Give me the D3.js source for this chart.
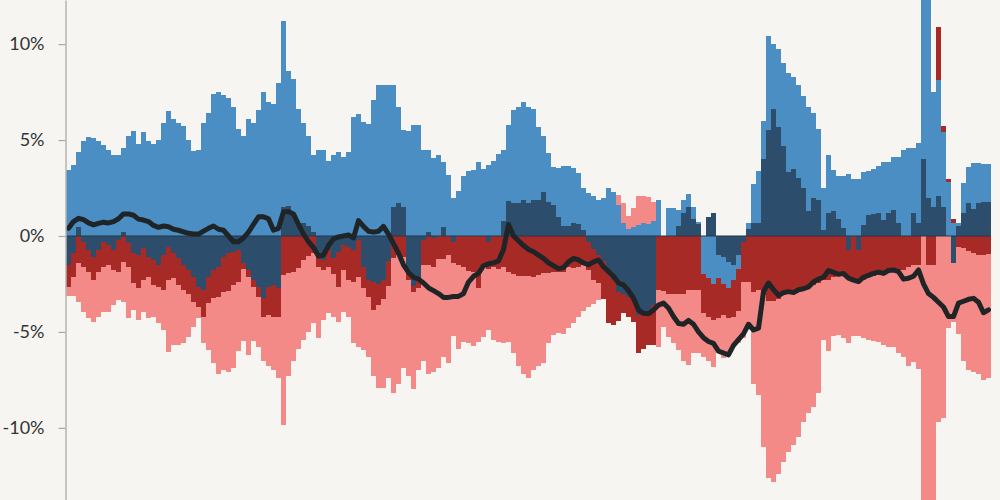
<!DOCTYPE html>
<html><head><meta charset="utf-8">
<script src="https://cdn.jsdelivr.net/npm/d3@7"></script>
<style>
html,body{margin:0;padding:0;background:#f6f5f1;}
svg{display:block;}
</style></head><body>
<svg id="chart" width="1000" height="500"></svg>
<script>
// Signed contributions per period (percent), stacked diverging: navy, blue, red, pink
const navy = [
-1.5,-0.9,0.45,-0.3,-0.73,-1.08,-0.73,-0.3,-0.47,-0.73,
-0.2,0.2,-0.38,-0.9,-1.0,-0.64,-1.08,-1.25,-1.5,-1.0,
-0.56,-0.9,-1.17,-1.5,-1.77,-2.12,-2.64,-2.82,-2.12,-1.77,
-1.6,-1.11,-0.9,-0.82,-0.73,-1.4,-1.77,-2.3,-2.64,-3.25,
-2.64,-2.56,-2.73,1.5,1.55,1.1,0.6,0.7,0.5,0.2,
-0.9,-1.25,-0.73,-1.17,-0.82,-0.47,-0.56,-0.73,-0.2,-1.6,
-2.3,-2.4,-2.5,-2.3,-1.3,1.5,1.7,1.5,-1.8,-2.6,
-2.3,-0.2,0.2,-0.1,0,0.45,0,-0.3,0,0,
0,0,0,0,-0.3,0,0,0.8,1.8,1.7,
1.7,1.85,1.7,1.88,1.88,2.3,1.75,1.6,1.0,0.5,
0.5,0.7,0.6,0.3,-0.3,-0.7,-1.0,-1.3,-2.0,-2.3,
-2.9,-3.0,-3.2,-3.3,-4.1,-4.0,-3.9,-3.6,0,0,
0,0,0.5,1.2,1.5,0.9,0.6,0,1.0,1.2,
-1.0,-1.1,-1.35,-1.5,-1.0,-0.3,0.35,0.66,0.7,4.0,
5.5,6.6,5.7,4.7,3.36,3.5,3.0,2.5,1.3,2.0,
1.9,0.3,1.2,1.3,0.9,0.4,-0.73,0,-0.73,0.57,
1.1,1.15,1.18,0.83,1.18,1.36,0.66,0,0,1.18,
0.7,4.0,2.0,1.5,2.1,1.5,0,-1.4,0.5,1.18,
1.7,1.4,1.7,1.79,1.79];
const blue = [
3.45,3.7,3.95,4.95,5.15,5.1,4.95,4.75,4.5,4.2,
4.2,4.4,5.2,5.45,4.8,5.4,4.95,4.8,5.0,5.9,
6.5,6.1,5.9,5.75,5.0,4.45,4.5,5.9,6.4,7.4,
7.5,7.36,7.2,6.7,5.6,5.2,6.1,5.9,6.57,7.5,
7.0,6.9,8.0,9.68,7.05,7.1,6.0,5.2,4.7,4.0,
4.5,4.5,3.9,4.2,4.4,4.1,4.4,6.2,6.35,5.95,
5.85,7.1,7.88,7.88,7.85,6.38,5.0,4.0,5.45,5.8,
5.8,4.5,4.3,4.05,4.2,3.4,3.2,2.0,2.35,3.15,
3.4,3.45,3.85,3.5,3.7,3.9,4.25,3.7,4.0,4.87,
5.0,5.15,5.0,4.72,3.82,2.9,2.55,2.0,2.55,3.15,
3.15,2.85,2.7,2.2,2.25,2.1,1.9,2.0,2.5,2.3,
1.6,0.7,0.35,0.45,0.55,0.7,0.6,0.8,1.9,0,
1.45,1.44,0.85,0.7,0.7,0.6,0.15,-2.0,-2.2,-2.5,
-1.2,-1.4,-1.35,-0.8,-0.7,0,0.31,2.04,2.7,2.0,
4.9,3.4,4.04,4.3,5.14,4.8,4.88,4.8,5.4,4.4,
3.7,2.2,3.0,2.15,2.25,2.75,3.25,2.95,2.95,2.78,
2.3,2.35,2.47,3.02,2.67,2.74,3.44,4.5,4.6,3.42,
4.15,14,14,6.0,6.04,3.94,2.8,0.66,0.2,1.6,
1.9,2.43,2.1,1.96,1.96];
const red = [
-1.14,-1.22,-1.43,-1.3,-1.13,-1.22,-1.13,-1.3,-1.04,-1.04,
-1.66,-1.34,-1.22,-1.57,-1.73,-1.66,-1.04,-1.31,-1.14,-1.82,
-1.74,-1.3,-1.39,-1.32,-1.23,-1.31,-1.05,-1.38,-1.39,-1.48,
-1.57,-1.79,-1.95,-1.74,-1.65,-0.3,-0.35,-0.34,-0.53,-0.95,
-1.48,-1.64,-1.47,-2.03,-1.95,-1.86,-1.69,-1.25,-1.04,-0.9,
-0.7,-0.52,-0.87,-0.83,-1.82,-1.3,-1.74,-1.65,-1.92,-1.13,
-0.87,-1.46,-1.1,-1.0,-1.3,-1.17,-1.0,-1.1,-0.5,-0.3,
-0.4,-1.3,-1.5,-1.5,-1.2,-1.2,-1.0,-1.1,-1.5,-1.6,
-1.8,-1.9,-2.7,-1.6,-1.4,-1.6,-1.7,-1.6,-1.9,-2.0,
-2.1,-2.1,-2.1,-2.12,-2.03,-1.95,-1.95,-1.86,-1.86,-1.86,
-1.6,-1.69,-1.6,-1.5,-1.47,-1.6,-1.47,-2.0,-2.56,-2.34,
-1.55,-1.03,-1.0,-1.2,-2.0,-1.9,-1.8,-2.1,-2.8,-2.85,
-3.0,-3.0,-3.0,-3.0,-2.8,-2.8,-2.8,-2.0,-2.0,-1.88,
-2.1,-1.6,-1.6,-1.9,-2.2,-2.1,-2.4,-2.9,-2.8,-3.1,
-3.4,-3.4,-3.3,-3.1,-2.95,-2.82,-2.82,-2.64,-2.64,-2.56,
-2.47,-2.3,-2.3,-2.12,-2.1,-1.95,-1.47,-2.38,-1.74,-2.3,
-2.12,-2.08,-2.03,-1.95,-1.86,-1.77,-1.77,-1.77,-1.6,-1.5,
-1.5,0,-1.5,-1.5,2.76,0.3,0.15,0.2,-0.55,-0.64,
-0.8,-0.9,-1.0,-1.0,-0.95];
const pink = [
-0.49,-1.01,-2.0,-2.35,-2.44,-2.17,-2.34,-2.35,-2.44,-1.83,
-1.48,-2.09,-2.7,-1.39,-1.65,-1.65,-2.18,-1.64,-1.92,-2.08,
-3.73,-3.49,-3.13,-2.78,-2.25,-1.3,-0.61,-1.4,-2.44,-3.39,
-4.0,-4.1,-4.25,-4.34,-3.62,-3.75,-4.08,-2.81,-2.63,-2.3,
-2.68,-2.8,-3.2,-7.83,-5.35,-4.64,-4.21,-4.15,-3.96,-3.66,
-3.7,-2.63,-2.43,-2.2,-1.86,-2.18,-1.9,-3.22,-3.68,-3.22,
-3.13,-3.44,-4.3,-4.6,-4.8,-7.03,-6.7,-5.8,-5.0,-5.1,
-4.3,-5.0,-5.7,-5.5,-5.7,-5.1,-5.6,-3.8,-4.4,-3.9,
-3.8,-3.85,-2.8,-3.65,-3.2,-3.8,-3.8,-4.0,-3.6,-4.1,
-4.7,-5.1,-5.3,-4.88,-4.77,-4.65,-3.65,-3.29,-3.19,-3.24,
-3.2,-2.86,-2.6,-2.4,-1.93,-1.25,-0.88,0,0,0,
0.55,1.0,0.7,1.0,1.55,1.4,1.45,0.95,-3.0,-1.9,
-2.25,-2.6,-2.95,-3.5,-3.9,-3.3,-3.3,-2.3,-2.3,-2.44,
-1.8,-2.25,-1.9,-1.6,-1.7,-2.9,-2.4,-4.8,-5.5,-7.9,
-9.2,-9.4,-9.1,-8.7,-8.3,-8.08,-7.68,-7.06,-6.61,-6.34,
-5.73,-3.1,-3.7,-3.08,-3.05,-3.35,-3.4,-2.82,-2.73,-3.0,
-3.28,-3.37,-3.52,-3.75,-3.94,-4.03,-4.33,-4.53,-5.2,-5.05,
-5.45,-16,-14.5,-16,-9.7,-9.5,-4.8,-3.1,-4.55,-5.86,
-6.2,-6.2,-6.2,-6.5,-6.45];
// Net total line (percent)
const netLine = [
0.4,0.75,0.92,0.85,0.68,0.58,0.66,0.72,0.68,0.75,
0.9,1.15,1.15,1.08,0.88,0.83,0.75,0.55,0.45,0.52,
0.48,0.35,0.3,0.22,0.14,0.1,0.1,0.25,0.4,0.52,
0.35,0.3,0.0,-0.3,-0.3,-0.1,0.2,0.6,1.0,1.0,
0.9,0.3,0.4,1.27,1.27,1.15,0.6,0.1,-0.3,-0.6,
-1.05,-1.0,-0.5,-0.15,-0.05,0.0,0.05,-0.1,0.8,0.5,
0.25,0.2,0.25,0.5,0.1,-0.4,-0.9,-1.5,-1.9,-2.15,
-2.25,-2.45,-2.7,-2.85,-3.0,-3.2,-3.2,-3.15,-3.15,-3.0,
-2.4,-2.1,-1.95,-1.55,-1.45,-1.4,-1.3,-0.7,0.6,0.0,
-0.25,-0.5,-0.7,-0.82,-1.0,-1.17,-1.4,-1.55,-1.7,-1.65,
-1.35,-1.17,-1.25,-1.4,-1.5,-1.35,-1.25,-1.6,-1.85,-2.1,
-2.45,-2.55,-2.85,-3.25,-3.86,-4.03,-4.05,-3.86,-3.6,-3.5,
-3.75,-4.2,-4.56,-4.6,-4.4,-4.6,-5.0,-5.3,-5.5,-5.6,
-6.0,-6.1,-6.2,-5.7,-5.4,-5.1,-4.6,-4.9,-4.8,-2.9,
-2.45,-2.8,-3.1,-2.95,-2.9,-2.95,-2.8,-2.75,-2.65,-2.4,
-2.25,-2.15,-1.8,-1.9,-2.0,-1.95,-2.2,-2.3,-2.38,-2.15,
-2.05,-1.95,-1.88,-1.95,-1.8,-1.77,-1.86,-2.25,-2.2,-2.1,
-1.77,-2.5,-3.0,-3.2,-3.45,-3.7,-4.2,-4.2,-3.5,-3.4,
-3.3,-3.25,-3.45,-4.0,-3.85];
const yTicks = [10, 5, 0, -5, -10];
const tickLabels = ["10%", "5%", "0%", "-5%", "-10%"];

const W = 1000, H = 500;
const svg = d3.select("#chart");
svg.append("rect").attr("width", W).attr("height", H).attr("fill", "#f6f5f1");

const idx = d3.range(navy.length);
const x = d3.scaleBand().domain(idx).range([66, 991]).padding(0);
const y = d3.scaleLinear().domain([-13.76, 12.3]).range([H, 0]);

const rows = idx.map(i => ({i, navy: navy[i], blue: blue[i], red: red[i], pink: pink[i]}));
const keys = ["navy", "blue", "red", "pink"];
const colors = {navy: "#2c4d6b", blue: "#4a8ec4", red: "#a82a27", pink: "#f38a88"};
const stacked = d3.stack().keys(keys).offset(d3.stackOffsetDiverging)(rows);

svg.append("defs").append("clipPath").attr("id", "plot")
  .append("rect").attr("x", 66).attr("y", 0).attr("width", 930).attr("height", H);

const gBars = svg.append("g").attr("clip-path", "url(#plot)");
stacked.forEach(s => {
  gBars.append("g").attr("fill", colors[s.key])
    .selectAll("rect").data(s).join("rect")
    .attr("x", d => x(d.data.i))
    .attr("width", x.bandwidth() + 0.3)
    .attr("y", d => y(Math.max(d[0], d[1])))
    .attr("height", d => Math.abs(y(d[0]) - y(d[1])))
    .attr("shape-rendering", "crispEdges");
});

// zero line
svg.append("line")
  .attr("x1", 66).attr("x2", 991)
  .attr("y1", y(0)).attr("y2", y(0))
  .attr("stroke", "#28394a").attr("stroke-width", 1);

// net line
const line = d3.line()
  .x(i => x(i) + x.bandwidth() / 2)
  .y(i => y(netLine[i]));
svg.append("path").datum(idx)
  .attr("d", line)
  .attr("fill", "none")
  .attr("stroke", "#1f2427")
  .attr("stroke-width", 5)
  .attr("stroke-linejoin", "round")
  .attr("stroke-linecap", "round");

// y axis
const axis = d3.axisLeft(y).tickValues(yTicks)
  .tickFormat((d, i) => tickLabels[i])
  .tickSize(7).tickSizeOuter(0).tickPadding(14);
const gAxis = svg.append("g").attr("transform", "translate(65.5,0)").call(axis);
gAxis.select(".domain").attr("stroke", "#b3b3b3").attr("stroke-width", 1.5);
gAxis.selectAll(".tick line").attr("stroke", "#a8a8a8").attr("stroke-width", 1.2);
gAxis.selectAll(".tick text")
  .attr("fill", "#333").style("font-family", "Lato, 'Open Sans', sans-serif")
  .style("font-size", "18px");
</script>
</body></html>
